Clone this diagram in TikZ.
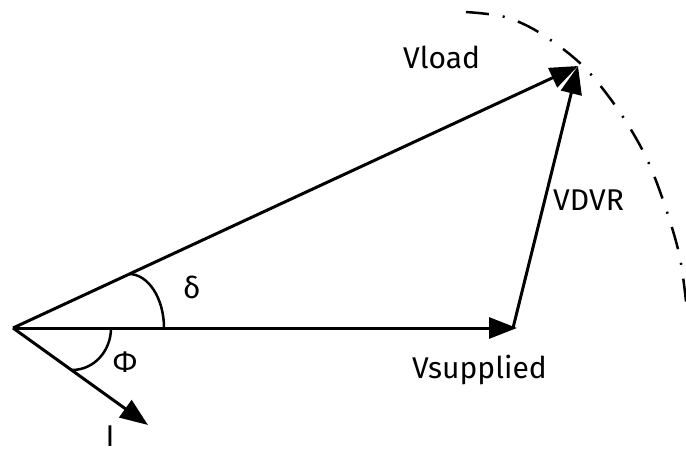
\documentclass[tikz,border=0pt]{standalone}
\usepackage{fontspec}
\setmainfont{Fira Sans}
\usetikzlibrary{arrows.meta}
\begin{document}
\begin{tikzpicture}[x=1pt,y=-1pt,
  vec/.style={line width=3pt,-{Triangle[length=28pt,width=21pt]}},
  anglearc/.style={line width=2.5pt},
  locus/.style={line width=2.5pt,dash pattern=on 23pt off 14pt on 2pt off 14pt},
  lbl/.style={font=\fontsize{30}{30}\selectfont,inner sep=0pt}]
\useasboundingbox (0,0) rectangle (686,452);
\coordinate (O) at (13,328);
\coordinate (S) at (517,328);
\coordinate (L) at (578,66);
\coordinate (I) at (148,425);
\coordinate (Sb) at (513,328);
% locus
\draw[locus] plot[smooth,tension=0.55] coordinates {(466,12) (505,17) (540,33) (582,65) (617,108) (645,155) (664,203) (680,258) (688,320)};
% vectors
\draw[vec] (O) -- (S);
\draw[vec] (O) -- (L);
\draw[vec] (Sb) -- (L);
\draw[vec] (O) -- (I);
% angle arcs
\coordinate (d0) at (164,328);
\coordinate (d1) at (129,274);
\draw[anglearc] (d0) .. controls (164,298) and (148,274) .. (d1);
\coordinate (p0) at (111,328);
\coordinate (p1) at (72,370);
\draw[anglearc] (p0) .. controls (111,351) and (94,370) .. (p1);
% labels
\node[lbl,anchor=base west] (vload) at (403,69) {Vload};
\node[lbl,anchor=base west] (vdvr) at (553,210) {VDVR};
\node[lbl,anchor=base east] (vsup) at (547,378) {Vsupplied};
\node[lbl,anchor=base west] (delta) at (183,298) {δ};
\node[lbl,anchor=base] (phi) at (125,372) {Φ};
\node[lbl,anchor=base] (ilbl) at (110,446) {I};
\end{tikzpicture}
\end{document}
